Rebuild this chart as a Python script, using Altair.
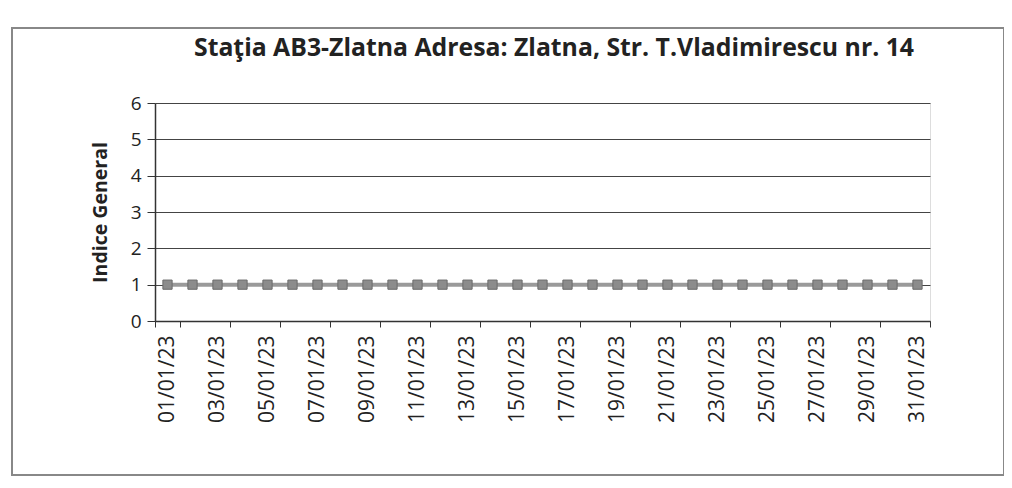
import altair as alt
import pandas as pd

dates = [f"{d:02d}/01/23" for d in range(1, 32)]
values = [1] * 31
label_dates = [f"{d:02d}/01/23" for d in range(1, 32, 2)]
title_text = "Staţia AB3-Zlatna Adresa: Zlatna, Str. T.Vladimirescu nr. 14"

df = pd.DataFrame({"date": dates, "value": values})

FONT = "Open Sans"

x = alt.X(
    "date:N",
    sort=None,
    scale=alt.Scale(type="band", paddingInner=0, paddingOuter=0),
    axis=alt.Axis(
        title=None,
        values=label_dates,
        labelAngle=-90,
        labelAlign="right",
        labelBaseline="middle",
        labelFontSize=21,
        labelFont=FONT,
        labelColor="#222",
        labelPadding=8,
        tickBand="extent",
        tickSize=6,
        tickColor="#333",
        domainColor="#333",
        domainWidth=1.5,
        grid=False,
    ),
)
y = alt.Y(
    "value:Q",
    scale=alt.Scale(domain=[0, 6]),
    axis=alt.Axis(
        title="Indice General",
        titleFont=FONT,
        titleFontSize=19.5,
        titleFontWeight="bold",
        titleColor="#222",
        titlePadding=20,
        values=[0, 1, 2, 3, 4, 5, 6],
        labelFontSize=19,
        labelFont=FONT,
        labelColor="#222",
        labelPadding=6,
        tickSize=8,
        tickColor="#333",
        domainColor="#333",
        domainWidth=1.5,
        grid=True,
        gridColor="#444",
        gridWidth=1,
    ),
)

frame = alt.Chart(pd.DataFrame({"a": [0]})).mark_rect(
    fill=None, stroke="#888", strokeWidth=2, clip=False
).encode(
    x=alt.value(-143), x2=alt.value(849), y=alt.value(-75), y2=alt.value(372)
)

title = alt.Chart(pd.DataFrame({"t": [title_text]})).mark_text(
    font=FONT, fontSize=24.8, fontWeight="bold", color="#222",
    align="center", baseline="alphabetic", clip=False
).encode(text="t:N", x=alt.value(399), y=alt.value(-47))

line = alt.Chart(df).mark_line(color="#9a9a9a", strokeWidth=4).encode(x=x, y=y)
pts = alt.Chart(df).mark_square(
    size=85, fill="#8c8c8c", stroke="#6a6a6a", strokeWidth=1, opacity=1
).encode(x=x, y=y)

chart = (
    alt.layer(frame, title, line, pts)
    .properties(
        width=775,
        height=218,
        padding={"left": 147, "right": 74, "top": 95, "bottom": 159},
        autosize="none",
    )
    .configure_view(stroke=None)
    .configure(background="white")
)

chart.save("out.html", embed_options={"renderer": "svg", "actions": False})
